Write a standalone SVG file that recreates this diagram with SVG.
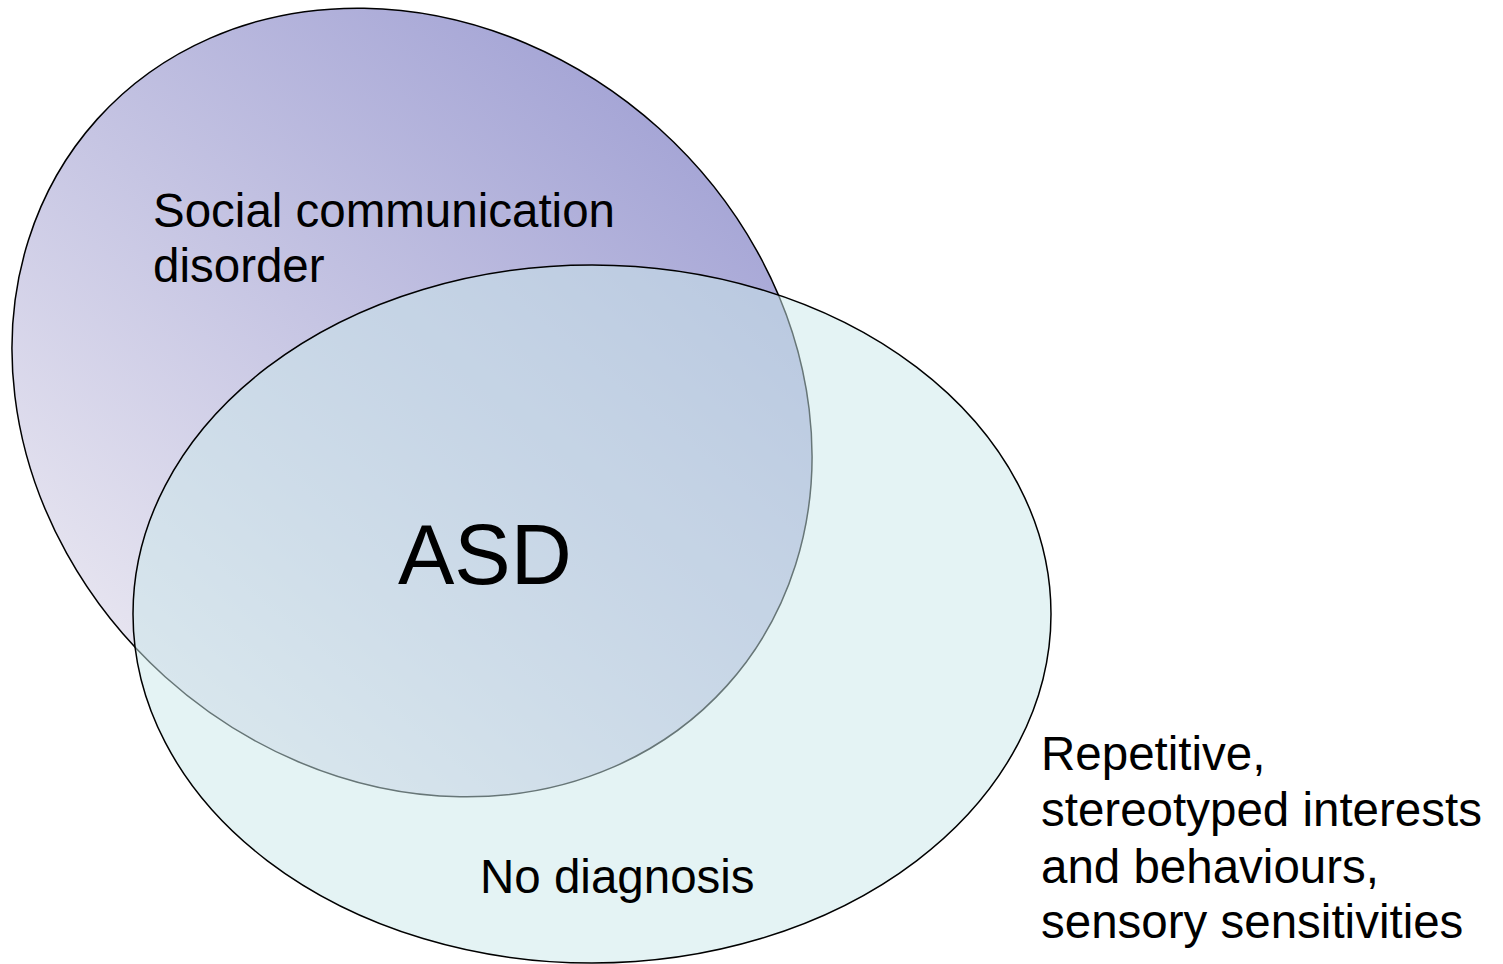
<svg xmlns="http://www.w3.org/2000/svg" width="1503" height="964" viewBox="0 0 1503 964">
<style>
text{font-family:"Liberation Sans",Arial,sans-serif;fill:#000}
.lbl{font-size:47.5px}
.big{font-size:84.5px}
.edge{stroke:#000;stroke-width:1.5}
</style>
<defs>
<linearGradient id="gp" gradientUnits="userSpaceOnUse" x1="176" y1="686" x2="648" y2="119" gradientTransform="rotate(-42 412 402.5)">
<stop offset="0" stop-color="#e6e4f0"/>
<stop offset="1" stop-color="#a6a6d6"/>
</linearGradient>
</defs>
<rect width="1503" height="964" fill="#fff"/>
<g id="scd">
<ellipse cx="412" cy="402.5" rx="423.5" ry="369" transform="rotate(42 412 402.5)" fill="url(#gp)" class="edge"/>
</g>
<g id="rrb">
<ellipse cx="592" cy="614" rx="459" ry="349" fill="#cae7e9" fill-opacity="0.51" class="edge"/>
</g>
<g id="labels">
<text class="lbl" x="153" y="227">Social communication</text>
<text class="lbl" x="153" y="282">disorder</text>
<text class="big" x="398" y="584">ASD</text>
<text class="lbl" x="480" y="893">No diagnosis</text>
<text class="lbl" x="1041" y="770">Repetitive,</text>
<text class="lbl" x="1041" y="826">stereotyped interests</text>
<text class="lbl" x="1041" y="883">and behaviours,</text>
<text class="lbl" x="1041" y="938">sensory sensitivities</text>
</g>
<g id="connectors"></g>
</svg>
